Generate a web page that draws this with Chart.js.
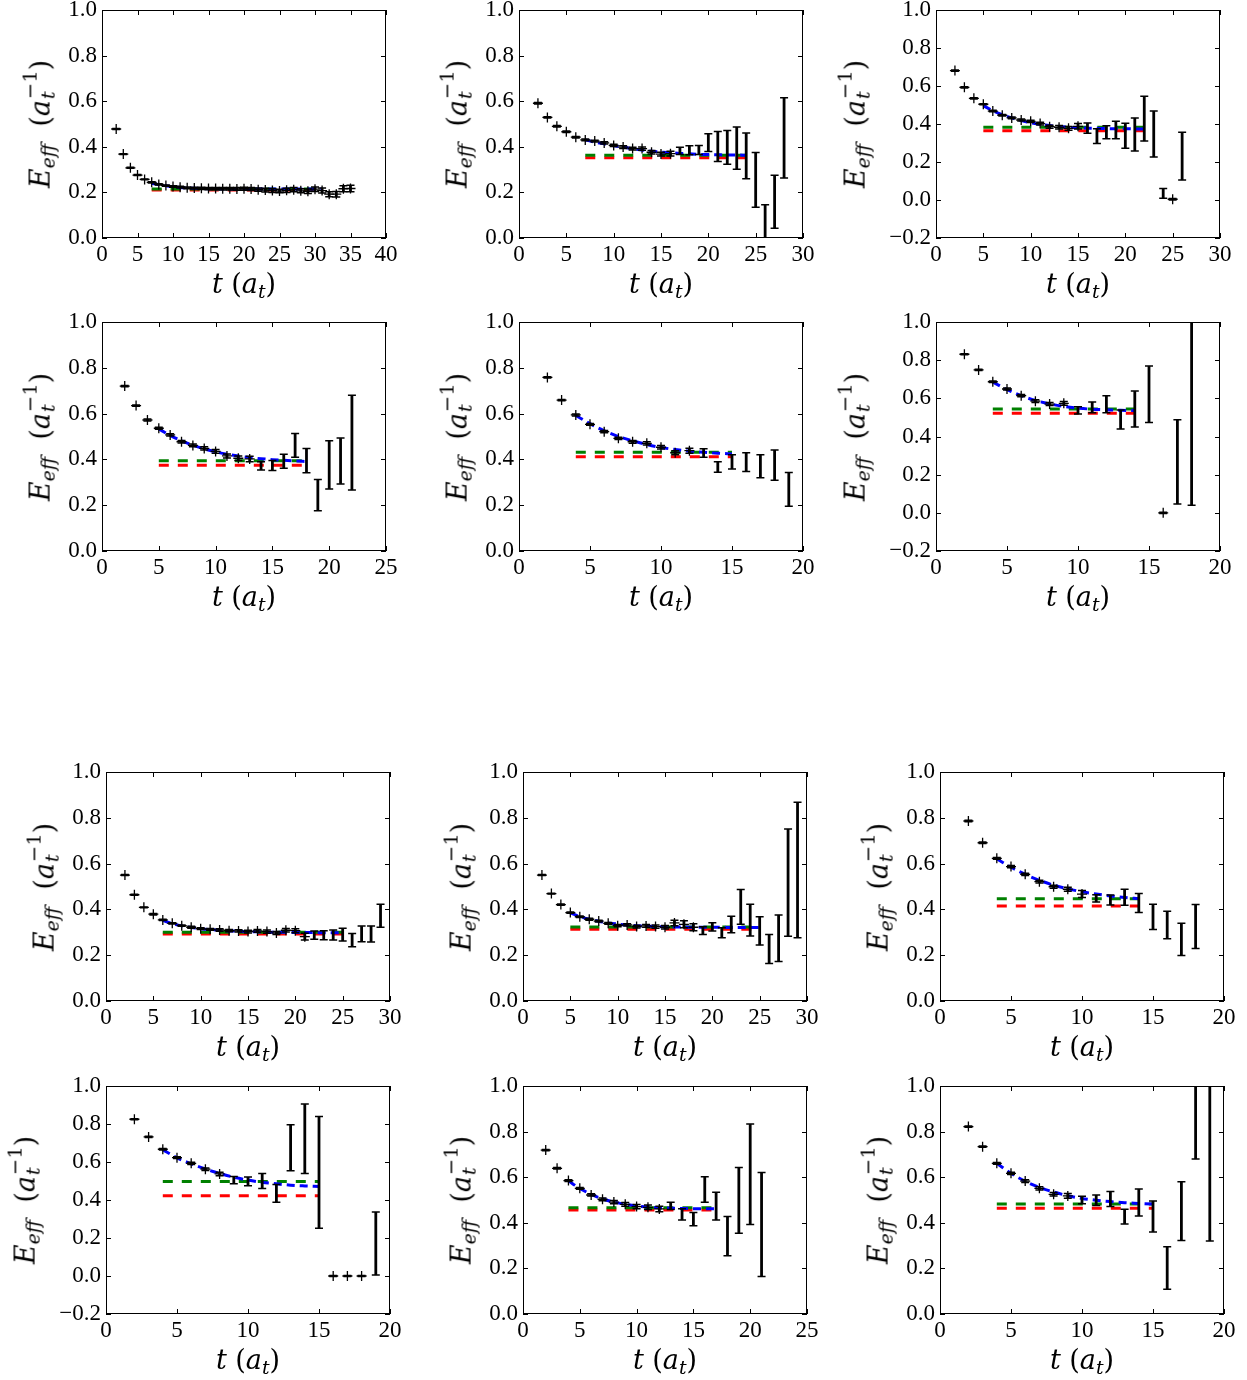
<!DOCTYPE html>
<html>
<head>
<meta charset="utf-8">
<script src="https://cdn.jsdelivr.net/npm/chart.js@4.4.0/dist/chart.umd.min.js"></script>
<style>
  body { margin: 0; background: #fff; width: 1247px; height: 1380px; position: relative; overflow: hidden; }
  canvas { position: absolute; }
  .lab { position: absolute; font-family: 'DejaVu Serif'; font-size: 27px; white-space: nowrap; color: #000; line-height: 1; }
  .xl { transform: translate(-50%, -50%); }
  .yl { transform: translate(-50%, -50%) rotate(-90deg); }
  .lab sub { font-size: 70%; vertical-align: -0.3em; line-height: 0; }
  .ss { display: inline-block; font-size: 72%; line-height: 0.95; vertical-align: -0.3em; margin-left: 1px; }
  .ss span { display: block; }
</style>
</head>
<body>
<script>
// effective energy points per panel (t, value, error)
const t1 = [2,3,4,5,6,7,8,9,10,11,12,13,14,15,16,17,18,19,20,21,22,23,24,25,26,27,28,29,30,31,32,33,34,35];
const v1 = [0.478,0.368,0.308,0.276,0.257,0.244,0.235,0.230,0.226,0.223,0.220,0.219,0.218,0.217,0.217,0.216,0.216,0.215,0.216,0.215,0.212,0.210,0.208,0.206,0.209,0.212,0.207,0.205,0.214,0.208,0.192,0.192,0.216,0.217];
const e1 = [0.002,0.002,0.002,0.002,0.002,0.003,0.003,0.003,0.003,0.004,0.004,0.004,0.005,0.005,0.005,0.006,0.006,0.006,0.007,0.007,0.007,0.008,0.008,0.008,0.009,0.009,0.009,0.010,0.010,0.011,0.011,0.012,0.013,0.014];

const t2 = [2,3,4,5,6,7,8,9,10,11,12,13,14,15,16,17,18,19,20,21,22,23,24,25,26,27,28];
const v2 = [0.591,0.529,0.490,0.466,0.442,0.430,0.425,0.417,0.406,0.399,0.392,0.392,0.376,0.368,0.370,0.382,0.385,0.386,0.418,0.401,0.398,0.394,0.360,0.255,0.030,0.159,0.439];
const e2 = [0.003,0.003,0.003,0.003,0.003,0.004,0.004,0.005,0.005,0.006,0.006,0.007,0.008,0.008,0.010,0.016,0.020,0.020,0.039,0.066,0.074,0.093,0.100,0.120,0.116,0.116,0.176];

const t3 = [2,3,4,5,6,7,8,9,10,11,12,13,14,15,16,17,18,19,20,21,22,23,24,25,26];
const v3 = [0.681,0.593,0.535,0.504,0.468,0.446,0.432,0.421,0.414,0.402,0.386,0.383,0.377,0.388,0.378,0.336,0.357,0.368,0.338,0.345,0.428,0.347,0.035,0.004,0.231];
const e3 = [0.003,0.003,0.003,0.003,0.004,0.004,0.005,0.005,0.006,0.007,0.008,0.009,0.010,0.014,0.027,0.039,0.034,0.046,0.066,0.087,0.118,0.121,0.026,0.004,0.126];

const t4 = [2,3,4,5,6,7,8,9,10,11,12,13,14,15,16,17,18,19,20,21,22];
const v4 = [0.720,0.635,0.572,0.536,0.507,0.477,0.461,0.448,0.435,0.415,0.405,0.402,0.372,0.373,0.392,0.461,0.395,0.244,0.376,0.393,0.473];
const e4 = [0.003,0.003,0.004,0.004,0.005,0.005,0.006,0.007,0.008,0.009,0.010,0.012,0.018,0.022,0.031,0.052,0.053,0.068,0.105,0.100,0.207];

const t5 = [2,3,4,5,6,7,8,9,10,11,12,13,14,15,16,17,18,19];
const v5 = [0.758,0.659,0.594,0.553,0.521,0.492,0.477,0.470,0.453,0.429,0.438,0.428,0.367,0.389,0.388,0.370,0.375,0.269];
const e5 = [0.003,0.003,0.004,0.004,0.005,0.005,0.006,0.007,0.008,0.009,0.011,0.019,0.023,0.031,0.041,0.050,0.066,0.074];

const t6 = [2,3,4,5,6,7,8,9,10,11,12,13,14,15,16,17,18];
const v6 = [0.831,0.749,0.687,0.649,0.614,0.585,0.570,0.574,0.537,0.553,0.569,0.489,0.544,0.621,0.000,0.267,0.620];
const e6 = [0.003,0.003,0.004,0.005,0.006,0.007,0.008,0.010,0.019,0.028,0.045,0.050,0.094,0.148,0.003,0.221,0.580];

const t7 = [2,3,4,5,6,7,8,9,10,11,12,13,14,15,16,17,18,19,20,21,22,23,24,25,26,27,28,29];
const v7 = [0.550,0.464,0.409,0.379,0.354,0.339,0.329,0.322,0.316,0.313,0.310,0.307,0.306,0.303,0.306,0.303,0.297,0.309,0.307,0.281,0.288,0.287,0.288,0.290,0.266,0.293,0.293,0.372];
const e7 = [0.002,0.002,0.002,0.003,0.003,0.003,0.003,0.004,0.004,0.004,0.005,0.005,0.005,0.006,0.006,0.007,0.007,0.008,0.009,0.015,0.018,0.020,0.022,0.028,0.029,0.034,0.035,0.050];

const t8 = [2,3,4,5,6,7,8,9,10,11,12,13,14,15,16,17,18,19,20,21,22,23,24,25,26,27,28,29];
const v8 = [0.550,0.469,0.421,0.386,0.368,0.357,0.349,0.339,0.329,0.332,0.325,0.328,0.325,0.322,0.341,0.335,0.322,0.307,0.324,0.298,0.334,0.411,0.353,0.306,0.227,0.274,0.517,0.572];
const e8 = [0.002,0.002,0.003,0.003,0.003,0.004,0.004,0.004,0.005,0.005,0.006,0.006,0.007,0.008,0.012,0.015,0.015,0.017,0.018,0.022,0.036,0.076,0.069,0.062,0.063,0.102,0.234,0.296];

const t9 = [2,3,4,5,6,7,8,9,10,11,12,13,14,15,16,17,18];
const v9 = [0.786,0.691,0.623,0.587,0.553,0.521,0.499,0.488,0.467,0.448,0.441,0.453,0.428,0.367,0.332,0.269,0.325];
const e9 = [0.003,0.003,0.004,0.005,0.005,0.006,0.007,0.009,0.015,0.016,0.022,0.035,0.041,0.055,0.060,0.070,0.096];

const t10 = [2,3,4,5,6,7,8,9,10,11,12,13,14,15,16,17,18,19];
const v10 = [0.825,0.732,0.667,0.623,0.593,0.562,0.537,0.505,0.498,0.500,0.435,0.675,0.722,0.545,0.000,0.000,0.000,0.171];
const e10 = [0.003,0.003,0.004,0.005,0.006,0.007,0.009,0.019,0.023,0.039,0.047,0.121,0.183,0.294,0.002,0.002,0.002,0.166];

const t11 = [2,3,4,5,6,7,8,9,10,11,12,13,14,15,16,17,18,19,20,21];
const v11 = [0.719,0.639,0.585,0.551,0.522,0.503,0.491,0.481,0.471,0.468,0.461,0.474,0.437,0.416,0.546,0.473,0.342,0.498,0.613,0.393];
const e11 = [0.003,0.003,0.004,0.004,0.005,0.006,0.007,0.008,0.009,0.010,0.012,0.016,0.025,0.029,0.056,0.061,0.086,0.144,0.220,0.228];

const t12 = [2,3,4,5,6,7,8,9,10,11,12,13,14,15,16,17,18,19];
const v12 = [0.822,0.734,0.661,0.617,0.583,0.551,0.525,0.518,0.500,0.499,0.504,0.427,0.489,0.428,0.202,0.451,0.880,0.720];
const e12 = [0.003,0.003,0.004,0.005,0.006,0.007,0.008,0.010,0.016,0.023,0.033,0.032,0.059,0.068,0.093,0.129,0.200,0.400];

// fit curves (blue) over the fit window
const ft1 = [7,8,9,10,11,12,13,14,15,16,17,18,19,20,21,22,23,24,25,26,27,28,29,30,31];
const f1 = [0.240,0.234,0.229,0.225,0.222,0.220,0.218,0.217,0.216,0.216,0.215,0.215,0.215,0.215,0.215,0.215,0.215,0.215,0.215,0.215,0.215,0.215,0.215,0.215,0.215];
const ft2 = [7,8,9,10,11,12,13,14,15,16,17,18,19,20,21,22,23,24];
const f2 = [0.430,0.421,0.413,0.405,0.398,0.392,0.386,0.381,0.377,0.374,0.371,0.369,0.367,0.366,0.365,0.364,0.364,0.363];
const ft3 = [5,6,7,8,9,10,11,12,13,14,15,16,17,18,19,20,21,22];
const f3 = [0.497,0.470,0.449,0.432,0.418,0.407,0.399,0.392,0.387,0.383,0.380,0.378,0.377,0.376,0.375,0.375,0.374,0.374];
const ft4 = [5,6,7,8,9,10,11,12,13,14,15,16,17,18];
const f4 = [0.533,0.505,0.481,0.462,0.446,0.433,0.423,0.415,0.408,0.403,0.399,0.396,0.393,0.391];
const ft5 = [4,5,6,7,8,9,10,11,12,13,14,15];
const f5 = [0.592,0.556,0.525,0.500,0.481,0.465,0.452,0.443,0.436,0.431,0.427,0.424];
const ft6 = [4,5,6,7,8,9,10,11,12,13,14];
const f6 = [0.685,0.646,0.614,0.589,0.571,0.558,0.549,0.543,0.540,0.537,0.536];
const ft7 = [6,7,8,9,10,11,12,13,14,15,16,17,18,19,20,21,22,23,24,25];
const f7 = [0.352,0.338,0.328,0.321,0.316,0.312,0.309,0.306,0.305,0.303,0.302,0.301,0.300,0.300,0.299,0.299,0.299,0.298,0.298,0.298];
const ft8 = [5,6,7,8,9,10,11,12,13,14,15,16,17,18,19,20,21,22,23,24,25];
const f8 = [0.385,0.369,0.357,0.348,0.341,0.336,0.332,0.329,0.327,0.325,0.324,0.323,0.323,0.322,0.322,0.322,0.322,0.321,0.321,0.321,0.321];
const ft9 = [4,5,6,7,8,9,10,11,12,13,14];
const f9 = [0.621,0.584,0.553,0.527,0.506,0.490,0.477,0.467,0.459,0.452,0.447];
const ft10 = [4,5,6,7,8,9,10,11,12,13,14,15];
const f10 = [0.665,0.622,0.590,0.563,0.540,0.520,0.505,0.493,0.485,0.478,0.474,0.471];
const ft11 = [4,5,6,7,8,9,10,11,12,13,14,15,16,17];
const f11 = [0.584,0.551,0.525,0.505,0.491,0.481,0.474,0.469,0.466,0.464,0.463,0.462,0.462,0.461];
const ft12 = [4,5,6,7,8,9,10,11,12,13,14,15];
const f12 = [0.661,0.617,0.582,0.555,0.535,0.519,0.507,0.499,0.493,0.488,0.485,0.482];

// plateau levels (green, red)
const greenLvl = [0.215,0.363,0.383,0.394,0.431,0.544,0.300,0.323,0.447,0.498,0.466,0.482];
const redLvl   = [0.210,0.352,0.365,0.374,0.412,0.522,0.293,0.313,0.415,0.423,0.456,0.464];

// axis ranges
const xMaxs = [40,30,30,25,20,20,30,30,20,20,25,20];
const yMins = [0,0,-0.2,0,0,-0.2,0,0,0,-0.2,0,0];

const T = [t1,t2,t3,t4,t5,t6,t7,t8,t9,t10,t11,t12];
const V = [v1,v2,v3,v4,v5,v6,v7,v8,v9,v10,v11,v12];
const E = [e1,e2,e3,e4,e5,e6,e7,e8,e9,e10,e11,e12];
const FT = [ft1,ft2,ft3,ft4,ft5,ft6,ft7,ft8,ft9,ft10,ft11,ft12];
const F = [f1,f2,f3,f4,f5,f6,f7,f8,f9,f10,f11,f12];

// page placement of each plot area
const boxes = [
  {left:102, top:10, h:228}, {left:519, top:10, h:228}, {left:936, top:10, h:228},
  {left:102, top:322, h:229}, {left:519, top:322, h:229}, {left:936, top:322, h:229},
  {left:106, top:772, h:229}, {left:523, top:772, h:229}, {left:940, top:772, h:229},
  {left:106, top:1086, h:228}, {left:523, top:1086, h:228}, {left:940, top:1086, h:228}
];
const PW = 284, PADL = 80, PADT = 30, PADR = 25, PADB = 40;

// error bars with caps, drawn over the datasets
const errBars = {
  id: 'errBars',
  afterDatasetsDraw(chart) {
    const {ctx, chartArea: a, scales: {x, y}} = chart;
    const pts = chart.data.datasets[0].data;
    ctx.save();
    ctx.beginPath();
    ctx.rect(a.left, a.top, a.right - a.left, a.bottom - a.top);
    ctx.clip();
    ctx.strokeStyle = '#000';
    pts.forEach(p => {
      const px = x.getPixelForValue(p.x);
      const lo = y.getPixelForValue(p.y - p.e);
      const hi = y.getPixelForValue(p.y + p.e);
      ctx.lineWidth = 2.8;
      ctx.beginPath(); ctx.moveTo(px, lo); ctx.lineTo(px, hi); ctx.stroke();
      ctx.lineWidth = 1.5;
      ctx.beginPath();
      ctx.moveTo(px - 4, lo); ctx.lineTo(px + 4, lo);
      ctx.moveTo(px - 4, hi); ctx.lineTo(px + 4, hi);
      ctx.stroke();
    });
    ctx.restore();
  }
};

// box frame with inward ticks on all four sides
const frame = {
  id: 'frame',
  afterDraw(chart) {
    const {ctx, chartArea: a, scales: {x, y}} = chart;
    ctx.save();
    ctx.strokeStyle = '#000';
    ctx.lineWidth = 1;
    ctx.strokeRect(a.left + 0.5, a.top + 0.5, a.right - a.left - 1, a.bottom - a.top - 1);
    ctx.beginPath();
    x.ticks.forEach(tk => {
      const px = Math.round(x.getPixelForValue(tk.value)) + 0.5;
      ctx.moveTo(px, a.bottom); ctx.lineTo(px, a.bottom - 5);
      ctx.moveTo(px, a.top); ctx.lineTo(px, a.top + 5);
    });
    y.ticks.forEach(tk => {
      const py = Math.round(y.getPixelForValue(tk.value)) + 0.5;
      ctx.moveTo(a.left, py); ctx.lineTo(a.left + 5, py);
      ctx.moveTo(a.right, py); ctx.lineTo(a.right - 5, py);
    });
    ctx.stroke();
    ctx.restore();
  }
};

const tickFont = {family: "'Liberation Serif', 'Times New Roman', serif", size: 23};

function makePanel(i) {
  const b = boxes[i];
  const cv = document.createElement('canvas');
  cv.width = PW + PADL + PADR;
  cv.height = b.h + PADT + PADB;
  cv.style.left = (b.left - PADL) + 'px';
  cv.style.top = (b.top - PADT) + 'px';
  document.body.appendChild(cv);

  const fitT = FT[i];
  const tA = fitT[0], tB = fitT[fitT.length - 1];
  const pts = T[i].map((t, k) => ({x: t, y: V[i][k], e: E[i][k]}));

  new Chart(cv, {
    type: 'line',
    data: {
      datasets: [
        {
          data: pts, showLine: false, pointStyle: 'cross',
          pointRadius: pts.map(p => p.e <= 0.015 ? 5 : 0),
          borderColor: '#000', borderWidth: 1.3
        },
        {
          data: fitT.map((t, k) => ({x: t, y: F[i][k]})),
          borderColor: '#0000ff', borderWidth: 3, borderDash: [8, 5],
          pointRadius: 0, cubicInterpolationMode: 'monotone', fill: false
        },
        {
          data: [{x: tA, y: greenLvl[i]}, {x: tB, y: greenLvl[i]}],
          borderColor: '#008000', borderWidth: 3, borderDash: [10, 9], pointRadius: 0
        },
        {
          data: [{x: tA, y: redLvl[i]}, {x: tB, y: redLvl[i]}],
          borderColor: '#ff0000', borderWidth: 3, borderDash: [10, 9], pointRadius: 0
        }
      ]
    },
    options: {
      responsive: false,
      animation: false,
      layout: {padding: {left: 0, top: PADT, right: PADR, bottom: 0}},
      plugins: {legend: {display: false}, tooltip: {enabled: false}},
      scales: {
        x: {
          type: 'linear', min: 0, max: xMaxs[i],
          grid: {display: false, drawTicks: false},
          border: {display: false},
          ticks: {stepSize: 5, autoSkip: false, maxRotation: 0, padding: 3, color: '#000', font: tickFont,
                  callback: v => String(v)},
          afterFit: s => { s.height = PADB; }
        },
        y: {
          min: yMins[i], max: 1.0,
          grid: {display: false, drawTicks: false},
          border: {display: false},
          ticks: {stepSize: 0.2, autoSkip: false, padding: 5, color: '#000', font: tickFont,
                  callback: v => (Math.abs(v) < 1e-9 ? 0 : v).toFixed(1).replace('-', '\u2212')},
          afterFit: s => { s.width = PADL; }
        }
      }
    },
    plugins: [errBars, frame]
  });

  // axis titles
  const xl = document.createElement('div');
  xl.className = 'lab xl';
  xl.innerHTML = '<i>t</i>&nbsp;(<i>a</i><sub><i>t</i></sub>)';
  xl.style.left = (b.left + PW / 2) + 'px';
  xl.style.top = (b.top + b.h + 45) + 'px';
  document.body.appendChild(xl);

  const yl = document.createElement('div');
  yl.className = 'lab yl';
  yl.innerHTML = '<i>E</i><sub><i>eff</i></sub>&nbsp;&nbsp;(<i>a</i><span class="ss"><span>\u22121</span><span><i>t</i></span></span>)';
  yl.style.left = (b.left - (yMins[i] < 0 ? 81 : 62)) + 'px';
  yl.style.top = (b.top + b.h / 2) + 'px';
  document.body.appendChild(yl);
}

for (let i = 0; i < 12; i++) makePanel(i);
</script>
</body>
</html>
